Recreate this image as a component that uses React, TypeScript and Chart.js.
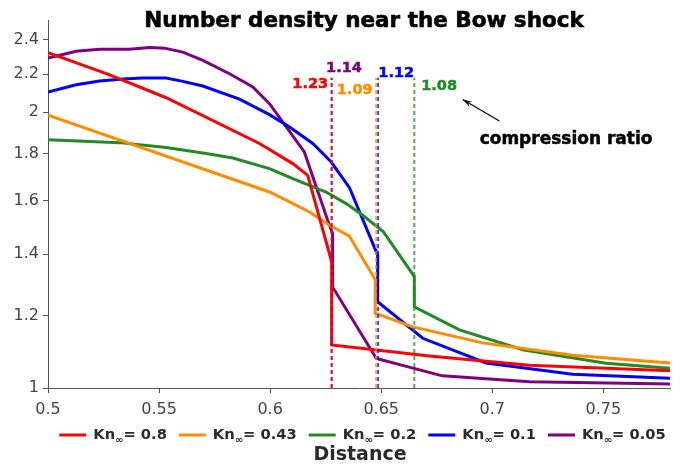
import React, { useEffect, useRef } from 'react';
import { Chart, registerables } from 'chart.js';

Chart.register(...registerables);

const knLabels = ['0.8', '0.43', '0.2', '0.1', '0.05'];
const seriesColors = ['#ff0000', '#ff8c00', '#228b22', '#0000ff', '#800080'];

const distance08 = [0.5, 0.5266, 0.5532, 0.5952, 0.6102, 0.6169, 0.6277, 0.6277, 0.6717, 0.7167, 0.78];
const density08 = [2.321, 2.201, 2.073, 1.848, 1.757, 1.706, 1.373, 1.114, 1.084, 1.059, 1.044];

const distance043 = [0.5, 0.5997, 0.6072, 0.6177, 0.6267, 0.6357, 0.6473, 0.6473, 0.6642, 0.6957, 0.7362, 0.78];
const density043 = [1.984, 1.636, 1.603, 1.556, 1.505, 1.464, 1.313, 1.207, 1.166, 1.12, 1.086, 1.065];

const distance02 = [0.5, 0.5322, 0.5532, 0.5712, 0.5832, 0.5997, 0.6102, 0.6252, 0.6342, 0.6417, 0.651, 0.6649, 0.6649, 0.6852, 0.7137, 0.7512, 0.78];
const density02 = [1.866, 1.852, 1.829, 1.802, 1.782, 1.735, 1.692, 1.636, 1.589, 1.543, 1.48, 1.323, 1.226, 1.157, 1.101, 1.064, 1.051];

const distance01 = [0.5, 0.5127, 0.5232, 0.5337, 0.5427, 0.5532, 0.5607, 0.5697, 0.5862, 0.5997, 0.6087, 0.6192, 0.6275, 0.6357, 0.6484, 0.6484, 0.6687, 0.6972, 0.7362, 0.78];
const density01 = [2.103, 2.142, 2.162, 2.173, 2.178, 2.178, 2.16, 2.135, 2.066, 1.987, 1.926, 1.848, 1.764, 1.654, 1.396, 1.242, 1.133, 1.065, 1.035, 1.025];

const distance005 = [0.5, 0.5127, 0.5232, 0.5367, 0.5457, 0.5524, 0.5607, 0.5697, 0.5817, 0.5922, 0.5997, 0.6154, 0.6259, 0.6281, 0.6281, 0.6478, 0.6775, 0.7167, 0.78];
const density005 = [2.29, 2.33, 2.342, 2.342, 2.352, 2.348, 2.325, 2.277, 2.202, 2.13, 2.042, 1.809, 1.524, 1.474, 1.289, 1.077, 1.031, 1.016, 1.01];

const seriesDistances = [distance08, distance043, distance02, distance01, distance005];
const seriesDensities = [density08, density043, density02, density01, density005];

const shockX = [0.6277, 0.6477, 0.6649, 0.6486, 0.6277];
const shockBottom = 1;
const shockTop = 2.18;
const compressionRatios = ['1.23', '1.09', '1.08', '1.12', '1.14'];

const xTicks = [0.5, 0.55, 0.6, 0.65, 0.7, 0.75];
const yTicks = [1, 1.2, 1.4, 1.6, 1.8, 2, 2.2, 2.4];

const titleText = 'Number density near the Bow shock';
const xTitle = 'Distance';
const arrowText = 'compression ratio';

function withAlpha(hex: string, a: number) {
  const r = parseInt(hex.slice(1, 3), 16);
  const g = parseInt(hex.slice(3, 5), 16);
  const b = parseInt(hex.slice(5, 7), 16);
  return `rgba(${r},${g},${b},${a})`;
}

// anchors (data coordinates) for ratio labels: left edge x, baseline y
const ratioAnchors = [
  { x: 0.61, y: 2.126 },
  { x: 0.63, y: 2.094 },
  { x: 0.668, y: 2.112 },
  { x: 0.6487, y: 2.183 },
  { x: 0.6252, y: 2.213 },
];

const annotationPlugin = {
  id: 'annot',
  afterDraw(chart: any) {
    const ctx = chart.ctx as CanvasRenderingContext2D;
    const xs = chart.scales.x;
    const ys = chart.scales.y;
    const ca = chart.chartArea;
    ctx.save();

    // title
    ctx.fillStyle = '#000';
    ctx.strokeStyle = '#000';
    ctx.lineWidth = 0.6;
    ctx.font = 'bold 21.5px "DejaVu Sans"';
    ctx.textAlign = 'center';
    ctx.textBaseline = 'alphabetic';
    const tx = (ca.left + ca.right) / 2 + 5;
    ctx.fillText(titleText, tx, 26.5);
    ctx.strokeText(titleText, tx, 26.5);

    // ratio labels
    ctx.font = 'bold 14.5px "DejaVu Sans"';
    ctx.textAlign = 'left';
    ctx.lineWidth = 0.5;
    compressionRatios.forEach((t, i) => {
      const a = ratioAnchors[i];
      const px = xs.getPixelForValue(a.x);
      const py = ys.getPixelForValue(a.y);
      ctx.fillStyle = seriesColors[i];
      ctx.strokeStyle = seriesColors[i];
      ctx.fillText(t, px, py);
      ctx.strokeText(t, px, py);
    });

    // arrow
    const ax0 = xs.getPixelForValue(0.7032);
    const ay0 = ys.getPixelForValue(1.955);
    const ax1 = xs.getPixelForValue(0.6867);
    const ay1 = ys.getPixelForValue(2.064);
    ctx.strokeStyle = '#000';
    ctx.fillStyle = '#000';
    ctx.lineWidth = 1.2;
    ctx.beginPath();
    ctx.moveTo(ax0, ay0);
    ctx.lineTo(ax1, ay1);
    ctx.stroke();
    const ang = Math.atan2(ay1 - ay0, ax1 - ax0);
    const hl = 10;
    ctx.beginPath();
    ctx.moveTo(ax1, ay1);
    ctx.lineTo(ax1 - hl * Math.cos(ang - 0.3), ay1 - hl * Math.sin(ang - 0.3));
    ctx.lineTo(ax1 - hl * 0.6 * Math.cos(ang), ay1 - hl * 0.6 * Math.sin(ang));
    ctx.lineTo(ax1 - hl * Math.cos(ang + 0.3), ay1 - hl * Math.sin(ang + 0.3));
    ctx.closePath();
    ctx.fill();

    ctx.font = 'bold 17px "DejaVu Sans"';
    ctx.textAlign = 'center';
    ctx.textBaseline = 'middle';
    ctx.lineWidth = 0.5;
    const cx = xs.getPixelForValue(0.7332);
    const cy = ys.getPixelForValue(1.867);
    ctx.fillText(arrowText, cx, cy);
    ctx.strokeText(arrowText, cx, cy);

    // legend
    const mainFont = 'bold 14.7px "DejaVu Sans"';
    const subFont = 'bold 10px "DejaVu Sans"';
    const lineLen = 27;
    const gapLT = 7;
    const gapItem = 12;
    const items = knLabels.map((k) => {
      ctx.font = mainFont;
      const w1 = ctx.measureText('Kn').width;
      const w3 = ctx.measureText('= ' + k).width;
      ctx.font = subFont;
      const w2 = ctx.measureText('∞').width;
      return { k, w1, w2, w3, w: lineLen + gapLT + w1 + w2 + w3 };
    });
    const total = items.reduce((s, it) => s + it.w, 0) + gapItem * (items.length - 1);
    let lx = 362.5 - total / 2;
    const ly = 435;
    ctx.textAlign = 'left';
    ctx.textBaseline = 'middle';
    items.forEach((it, i) => {
      ctx.strokeStyle = seriesColors[i];
      ctx.lineWidth = 3;
      ctx.beginPath();
      ctx.moveTo(lx, ly);
      ctx.lineTo(lx + lineLen, ly);
      ctx.stroke();
      let x = lx + lineLen + gapLT;
      ctx.fillStyle = '#2a2a2a';
      ctx.font = mainFont;
      ctx.fillText('Kn', x, ly);
      x += it.w1;
      ctx.font = subFont;
      ctx.fillText('∞', x, ly + 5);
      x += it.w2;
      ctx.font = mainFont;
      ctx.fillText('= ' + it.k, x, ly);
      lx += it.w + gapItem;
    });

    // x axis title
    ctx.font = 'bold 19px "DejaVu Sans"';
    ctx.textAlign = 'center';
    ctx.fillStyle = '#2a2a2a';
    ctx.fillText(xTitle, 360, 455);

    ctx.restore();
  },
};

export default function App() {
  const ref = useRef<HTMLCanvasElement>(null);
  useEffect(() => {
    document.body.style.margin = '0';
    const canvas = ref.current;
    if (!canvas) return;

    const shockSets = shockX.map((sx, i) => ({
      label: 'shock ' + knLabels[i],
      data: [
        { x: sx, y: shockBottom },
        { x: sx, y: shockTop },
      ],
      borderColor: withAlpha(seriesColors[i], 0.75),
      borderWidth: 2,
      borderDash: [4, 3],
      pointRadius: 0,
      fill: false,
      order: i === 0 ? 0 : 1,
    }));

    const lineSets = seriesDistances.map((xsArr, i) => ({
      label: 'Kn∞= ' + knLabels[i],
      data: xsArr.map((x, j) => ({ x, y: seriesDensities[i][j] })),
      borderColor: seriesColors[i],
      backgroundColor: seriesColors[i],
      borderWidth: 3,
      pointRadius: 0,
      tension: 0,
      fill: false,
      order: 2,
    }));

    const chart = new Chart(canvas, {
      type: 'line',
      data: { datasets: [...shockSets, ...lineSets] as any },
      options: {
        responsive: false,
        animation: false,
        layout: { padding: { top: 20, right: 22, left: 0, bottom: 0 } },
        plugins: {
          legend: { display: false },
          tooltip: { enabled: false },
          title: { display: false },
        },
        scales: {
          x: {
            type: 'linear',
            min: 0.5,
            max: 0.78,
            afterBuildTicks: (s: any) => {
              s.ticks = xTicks.map((v) => ({ value: v }));
            },
            afterFit: (s: any) => {
              s.height = 79;
            },
            ticks: {
              font: { family: 'DejaVu Sans', size: 16 },
              color: '#444',
              padding: 7,
              maxRotation: 0,
              callback: (v: any) => String(+Number(v).toFixed(2)),
            },
            grid: { drawOnChartArea: false, drawTicks: true, tickLength: 5, color: '#555' },
            border: { display: true, color: '#555', width: 1 },
          },
          y: {
            type: 'logarithmic',
            min: 1,
            max: 2.52,
            afterBuildTicks: (s: any) => {
              s.ticks = yTicks.map((v) => ({ value: v }));
            },
            afterFit: (s: any) => {
              s.width = 48;
            },
            ticks: {
              font: { family: 'DejaVu Sans', size: 16 },
              color: '#444',
              padding: 4,
              callback: (v: any) => String(+Number(v).toFixed(2)),
            },
            grid: { drawOnChartArea: false, drawTicks: true, tickLength: 5, color: '#555' },
            border: { display: true, color: '#555', width: 1 },
          },
        },
      },
      plugins: [annotationPlugin],
    });
    return () => chart.destroy();
  }, []);

  return (
    <div style={{ position: 'absolute', left: 0, top: 0, width: 692, height: 467, background: '#fff' }}>
      <canvas ref={ref} width={692} height={467} style={{ display: 'block' }} />
    </div>
  );
}
